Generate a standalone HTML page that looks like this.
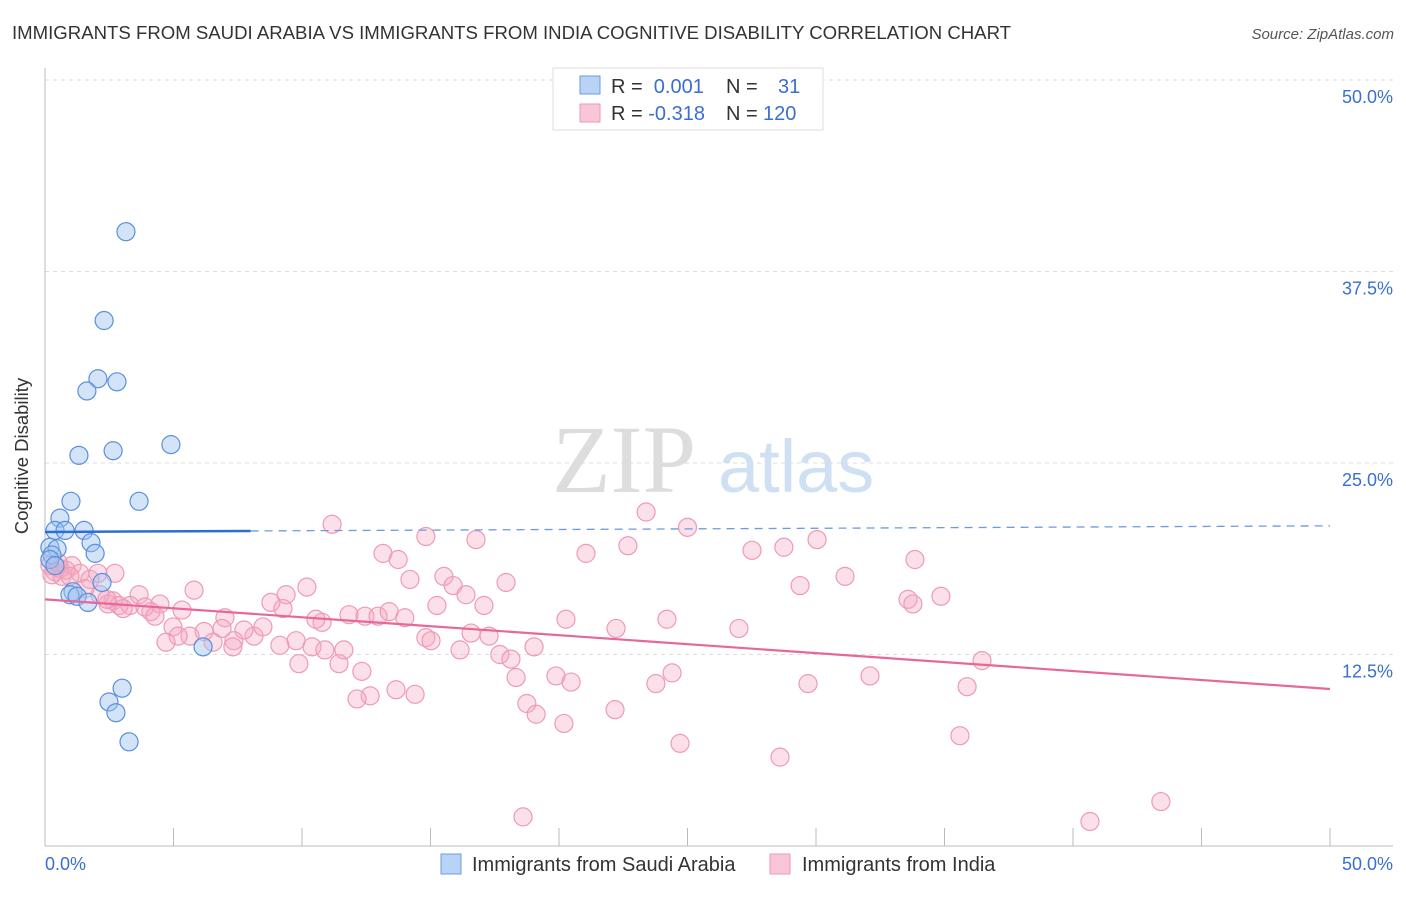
<!DOCTYPE html>
<html><head><meta charset="utf-8"><style>
body{margin:0;background:#fff;font-family:"Liberation Sans",sans-serif}
</style></head><body>
<svg width="1406" height="892" xmlns="http://www.w3.org/2000/svg" font-family="Liberation Sans, sans-serif">
<text x="12" y="39" font-size="18.6" fill="#333">IMMIGRANTS FROM SAUDI ARABIA VS IMMIGRANTS FROM INDIA COGNITIVE DISABILITY CORRELATION CHART</text>
<text x="1394" y="39" font-size="15" fill="#555" font-style="italic" text-anchor="end">Source: ZipAtlas.com</text>
<g>
<text x="552" y="492" font-size="96" fill="#ddd" font-family="Liberation Serif, serif">ZIP</text>
<text x="718" y="492" font-size="74" fill="#cfe0f3">atlas</text>
</g>
<g id="grid"></g>
<g id="axes"></g>
<g id="marks"></g>
<text x="28" y="456" font-size="18.5" fill="#333" transform="rotate(-90 28 456)" text-anchor="middle">Cognitive Disability</text>
<g>
<rect x="553" y="68" width="270" height="62" fill="#fff" stroke="#ddd"/>
<rect x="580" y="76" width="20" height="18" fill="#b8d3f5" stroke="#6b9be0"/>
<rect x="580" y="104" width="20" height="18" fill="#f9c6d6" stroke="#ec9ab6"/>
<text x="611" y="93" font-size="20" fill="#333">R = <tspan fill="#3a6fd0">&#160;0.001</tspan><tspan x="726">N = </tspan><tspan x="778" fill="#3a6fd0">31</tspan></text>
<text x="611" y="120" font-size="20" fill="#333">R = <tspan fill="#3a6fd0">-0.318</tspan><tspan x="726">N = </tspan><tspan x="763" fill="#3a6fd0">120</tspan></text>
</g>
<g>
<rect x="441" y="854" width="20" height="20" fill="#b8d3f5" stroke="#6b9be0"/>
<text x="472" y="871" font-size="20" fill="#333">Immigrants from Saudi Arabia</text>
<rect x="770" y="854" width="20" height="20" fill="#f9c6d6" stroke="#ec9ab6"/>
<text x="802" y="871" font-size="20" fill="#333">Immigrants from India</text>
</g>
</svg>
<script>
const yTicks=[12.5,25,37.5,50];
const yTickLabels=["12.5%","25.0%","37.5%","50.0%"];
const xTickLabels=["0.0%","50.0%"];
const blueX=[3.15,2.30,2.06,2.80,1.63,4.90,2.65,1.32,1.01,3.66,0.58,0.39,0.78,1.52,1.79,1.95,0.19,0.47,0.27,0.19,0.39,2.22,1.09,0.97,1.25,1.67,6.15,3.0,2.49,2.76,3.27];
const blueY=[40.1,34.3,30.5,30.3,29.7,26.2,25.8,25.5,22.5,22.5,21.4,20.6,20.6,20.6,19.8,19.1,19.5,19.4,19.0,18.7,18.3,17.2,16.6,16.4,16.3,15.9,13.0,10.3,9.4,8.7,6.8];
const pinkX=[11.17,14.82,16.77,23.39,25.0,13.15,13.74,21.05,22.68,27.51,28.75,30.04,33.85,15.52,15.88,14.2,17.94,31.13,29.38,16.38,10.19,9.38,5.8,3.66,15.25,17.08,8.79,9.26,33.58,33.77,34.86,20.27,24.2,11.83,12.45,12.96,13.39,14.0,10.78,10.54,7.0,5.33,4.47,4.12,2.65,3.31,2.88,2.45,3.04,3.89,4.28,22.22,27.0,16.58,17.28,14.82,15.02,9.77,10.39,10.89,11.63,9.14,8.13,7.74,7.35,6.54,6.19,6.89,5.64,4.98,5.18,4.71,7.31,8.48,19.03,16.15,17.7,18.13,11.44,9.88,12.33,36.46,18.33,19.88,20.47,24.4,23.77,29.69,32.1,35.88,13.66,14.4,12.65,12.14,18.75,19.11,20.19,22.18,24.71,28.6,35.6,43.42,40.66,18.6,0.19,0.39,0.58,0.82,1.05,0.27,0.66,1.36,1.75,2.06,1.56,2.72,2.14,2.41,0.51,0.97];
const pinkY=[21.0,20.2,20.0,21.8,20.8,19.1,18.7,19.1,19.6,19.3,19.5,20.0,18.7,17.6,17.0,17.4,17.2,17.6,17.0,16.4,16.9,16.4,16.7,16.4,15.7,15.7,15.9,15.5,16.1,15.8,16.3,14.8,14.8,15.1,15.0,15.0,15.3,14.9,14.6,14.8,14.9,15.4,15.8,15.3,16.0,15.7,15.7,15.8,15.5,15.6,15.0,14.2,14.2,13.9,13.7,13.6,13.4,13.4,13.0,12.8,12.8,13.1,13.7,14.1,13.4,13.3,14.0,14.2,13.7,14.3,13.7,13.3,13.0,14.3,13.0,12.8,12.5,12.2,11.9,11.9,11.4,12.1,11.0,11.1,10.7,11.3,10.6,10.6,11.1,10.4,10.2,9.9,9.8,9.6,9.3,8.6,8.0,8.9,6.7,5.8,7.2,2.9,1.6,1.9,18.3,17.9,18.1,18.0,18.3,17.7,17.6,17.8,17.4,17.8,16.8,17.8,16.4,16.1,18.5,17.6];
const blueTrend=[20.5,20.9];
const pinkTrend=[16.1,10.25];
const NS="http://www.w3.org/2000/svg";
const X=v=>45+v*25.7, Y=v=>846-v*15.32;
function mk(t,a,p){const e=document.createElementNS(NS,t);for(const k in a)e.setAttribute(k,a[k]);document.getElementById(p).appendChild(e);return e;}
yTicks.forEach((t,i)=>{
 const g=mk('line',{x1:45,x2:1393,y1:Y(t),y2:Y(t),stroke:'#ddd','stroke-dasharray':'4,4'},'grid');
 
 
 const l=mk('text',{x:1393,y:Y(t)+23,'font-size':18,fill:'#3a6fd0','text-anchor':'end'},'axes');
 l.textContent=yTickLabels[i];
 
 
});
let a=mk('line',{x1:45,x2:45,y1:68,y2:846,stroke:'#bbb'},'axes');


a=mk('line',{x1:45,x2:1393,y1:846,y2:846,stroke:'#bbb'},'axes');


for(let i=0;i<=10;i++){const t=mk('line',{x1:X(i*5),x2:X(i*5),y1:828,y2:846,stroke:'#bbb'},'axes');
 
 }
[[0,'start',45],[50,'end',1393]].forEach((d,i)=>{const l=mk('text',{x:d[2],y:870,'font-size':18,fill:'#3a6fd0','text-anchor':d[1]},'axes');l.textContent=xTickLabels[i];
 
 });
pinkX.forEach((x,i)=>{const c=mk('circle',{cx:X(x),cy:Y(pinkY[i]),r:9,fill:'rgba(244,165,192,0.35)',stroke:'#ee9ab6','stroke-width':1.2},'marks');
 
 });
blueX.forEach((x,i)=>{const c=mk('circle',{cx:X(x),cy:Y(blueY[i]),r:9,fill:'rgba(160,196,240,0.45)',stroke:'#5b8fdc','stroke-width':1.2},'marks');
 
 });
const bm=blueTrend[0]+(blueTrend[1]-blueTrend[0])*8/50;
let t=mk('line',{x1:X(0),y1:Y(blueTrend[0]),x2:X(8),y2:Y(bm),stroke:'#2b6fd0','stroke-width':2.5},'marks');


t=mk('line',{x1:X(8),y1:Y(bm),x2:X(50),y2:Y(blueTrend[1]),stroke:'#6b9be0','stroke-width':1.3,'stroke-dasharray':'8,6'},'marks');


t=mk('line',{x1:X(0),y1:Y(pinkTrend[0]),x2:X(50),y2:Y(pinkTrend[1]),stroke:'#e8679a','stroke-width':2.2},'marks');


</script>
</body></html>
